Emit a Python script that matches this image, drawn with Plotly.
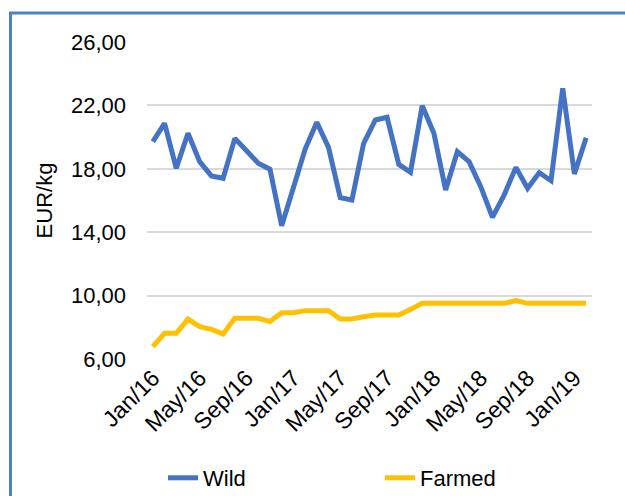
import plotly.graph_objects as go

months = ["Jan", "Feb", "Mar", "Apr", "May", "Jun", "Jul", "Aug", "Sep", "Oct", "Nov", "Dec"]
categories = [f"{m}/{y}" for y in ("16", "17", "18") for m in months] + ["Jan/19", "Feb/19"]

wild = [19.71, 20.87, 18.03, 20.24, 18.45, 17.55, 17.40, 19.92, 19.14, 18.35, 17.97, 14.41,
        16.80, 19.23, 20.93, 19.35, 16.18, 16.03, 19.61, 21.08, 21.25, 18.28, 17.78, 21.98,
        20.24, 16.66, 19.08, 18.45, 16.87, 14.94, 16.35, 18.09, 16.77, 17.76, 17.25, 23.08,
        17.67, 19.96]

farmed = [6.78, 7.62, 7.62, 8.52, 8.04, 7.87, 7.58, 8.57, 8.57, 8.57, 8.36, 8.92,
          8.92, 9.05, 9.05, 9.05, 8.52, 8.52, 8.67, 8.78, 8.78, 8.78, 9.13, 9.51,
          9.51, 9.51, 9.51, 9.51, 9.51, 9.51, 9.51, 9.68, 9.51, 9.51, 9.51, 9.51,
          9.51, 9.51]

y_ticks = [6, 10, 14, 18, 22, 26]
x_ticks = categories[0::4]

FONT = "Liberation Sans, Arial, sans-serif"

fig = go.Figure()
fig.add_trace(go.Scatter(x=categories, y=wild, name="Wild", mode="lines",
                         line=dict(color="#4472C4", width=5, shape="linear")))
fig.add_trace(go.Scatter(x=categories, y=farmed, name="Farmed", mode="lines",
                         line=dict(color="#FFC000", width=5, shape="linear")))

L, R, T, B = 147, 33, 42, 137
W, H = 625, 496
pw, ph = W - L - R, H - T - B

def px_x(p):
    return (p - L) / pw

def px_y(p):
    return (H - B - p) / ph

fig.update_layout(
    width=W, height=H,
    margin=dict(l=L, r=R, t=T, b=B, autoexpand=False),
    paper_bgcolor="white", plot_bgcolor="white",
    separators=",.",
    font=dict(family=FONT, size=22, color="#000000"),
    showlegend=True,
    legend=dict(orientation="h", x=px_x(163), xanchor="left", y=px_y(478), yanchor="middle",
                font=dict(family=FONT, size=22, color="#000000"),
                entrywidth=172, entrywidthmode="pixels",
                bgcolor="rgba(0,0,0,0)"),
    xaxis=dict(type="category", range=[-0.5, len(categories) - 0.5],
               tickmode="array", tickvals=x_ticks, ticktext=x_ticks,
               tickangle=-45, showgrid=False, zeroline=False, showline=False,
               ticks="", tickfont=dict(family=FONT, size=23, color="#000000")),
    yaxis=dict(range=[6, 26], tickmode="array", tickvals=y_ticks, tickformat=".2f",
               showgrid=True, gridcolor="#D9D9D9", gridwidth=1.5, zeroline=False,
               showline=False, ticks="", ticklabelstandoff=20,
               tickfont=dict(family=FONT, size=22, color="#000000"),
               title=dict(text="EUR/kg", standoff=12,
                          font=dict(family=FONT, size=22, color="#000000"))),
    shapes=[dict(type="rect", xref="paper", yref="paper",
                 x0=px_x(10.5), x1=px_x(640), y0=px_y(13), y1=px_y(520),
                 line=dict(color="#4F81BD", width=3), fillcolor="rgba(0,0,0,0)",
                 layer="above")],
)

fig.write_html("out.html")
